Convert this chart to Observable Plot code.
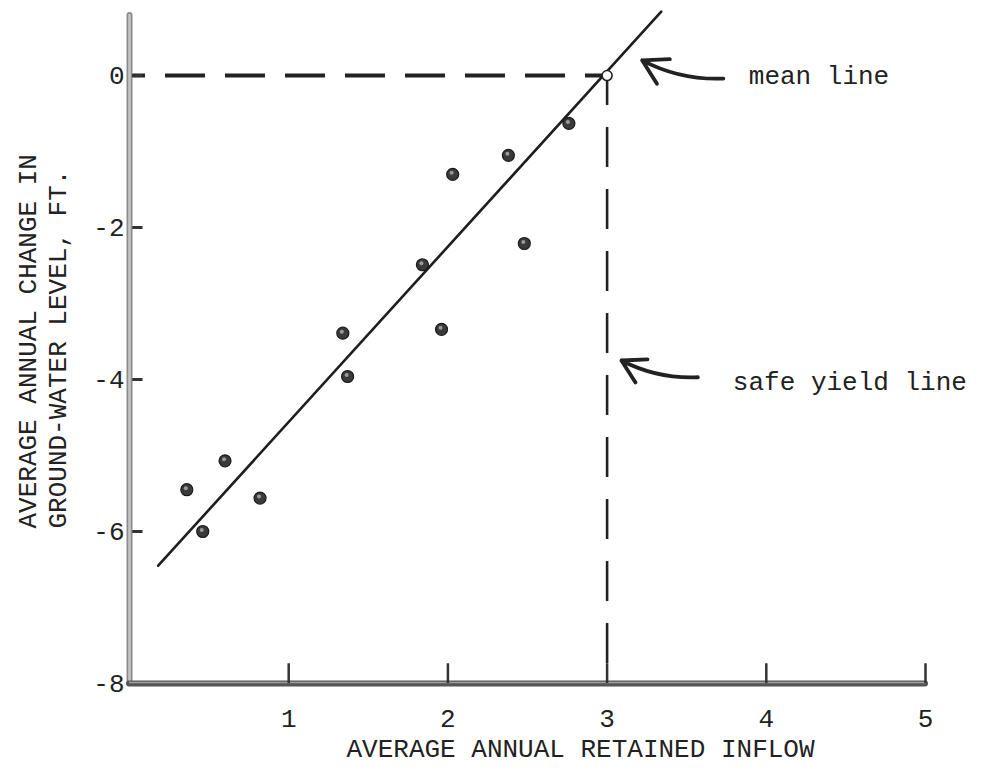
<!DOCTYPE html>
<html><head><meta charset="utf-8">
<script src="https://cdn.jsdelivr.net/npm/d3@7"></script>
<script src="https://cdn.jsdelivr.net/npm/@observablehq/plot@0.6"></script>
<style>html,body{margin:0;padding:0;background:#fff;}</style>
</head><body><div id="chart"></div>
<script>
// Observed points: average annual retained inflow vs. average annual change in ground-water level (ft)
const inflow      = [0.36, 0.46, 0.60, 0.82, 1.34, 1.37, 1.84, 1.96, 2.03, 2.38, 2.48, 2.76];
const levelChange = [-5.45, -6.00, -5.07, -5.56, -3.39, -3.96, -2.49, -3.34, -1.30, -1.05, -2.21, -0.63];
// Fitted line end points
const fitX = [0.18, 3.34];
const fitY = [-6.45, 0.84];
// Mean line (zero change) and safe yield line
const meanLevel = 0;
const safeYield = 3;
// Ticks
const xTicks = [1, 2, 3, 4, 5];
const yTicks = [0, -2, -4, -6, -8];
// Annotations
const noteText  = ["mean line", "safe yield line"];
const noteX     = [3.89, 3.79];
const noteY     = [0.0, -4.03];
const arrowTailX = [3.73, 3.57];
const arrowTailY = [-0.04, -3.97];
const arrowTipX  = [3.22, 3.09];
const arrowTipY  = [0.20, -3.75];

const points = inflow.map((x, i) => ({x, y: levelChange[i]}));
const fit = fitX.map((x, i) => ({x, y: fitY[i]}));
const notes = noteText.map((t, i) => ({t, x: noteX[i], y: noteY[i],
  x1: arrowTailX[i], y1: arrowTailY[i], x2: arrowTipX[i], y2: arrowTipY[i]}));

const FONT = "Liberation Mono";
const FS = 26;

const chart = Plot.plot({
  width: 985,
  height: 770,
  marginLeft: 129,
  marginRight: 60,
  marginTop: 15,
  marginBottom: 87,
  style: {background: "#fff", fontFamily: FONT, color: "#222"},
  x: {type: "linear", domain: [0, 5], range: [129, 925], axis: null},
  y: {type: "linear", domain: [-8, 0.79], range: [683, 15], axis: null},
  marks: [
    // dashed reference lines
    Plot.ruleY([meanLevel], {x1: 0, x2: safeYield, stroke: "#222", strokeWidth: 4, strokeDasharray: "40,20", strokeDashoffset: 24}),
    Plot.ruleX([safeYield], {y1: meanLevel, y2: -8, stroke: "#222", strokeWidth: 2.6, strokeDasharray: "40,22", strokeDashoffset: 10}),
    // axes
    Plot.ruleX([0], {y1: -8, y2: 0.79, stroke: "#8c8c8c", strokeWidth: 6, strokeLinecap: "round"}),
    Plot.ruleX([0], {y1: -8, y2: 0.79, stroke: "#c8c8c8", strokeWidth: 2.5, strokeLinecap: "round"}),
    Plot.ruleY([-8], {x1: 0, x2: 5, stroke: "#555", strokeWidth: 6, strokeLinecap: "round"}),
    Plot.ruleY([-8], {x1: 0, x2: 5, stroke: "#a0a0a0", strokeWidth: 1.5, dy: -1}),
    // ticks
    Plot.ruleY(yTicks.filter(d => d > -8), {y: d => d, x1: 0.02, x2: 0.085, stroke: "#333", strokeWidth: 3}),
    Plot.ruleX(xTicks, {x: d => d, y1: -8, y2: -7.74, stroke: "#333", strokeWidth: 2.5}),
    // tick labels
    Plot.text(yTicks, {x: 0, y: d => d, text: d => String(d), textAnchor: "end", dx: -5, fontSize: FS, fontFamily: FONT, fill: "#222"}),
    Plot.text(xTicks, {x: d => d, y: -8, text: d => String(d), dy: 35, fontSize: FS, fontFamily: FONT, fill: "#222"}),
    // fitted line
    Plot.line(fit, {x: "x", y: "y", stroke: "#1e1e1e", strokeWidth: 2.6}),
    // observed points
    Plot.dot(points, {x: "x", y: "y", r: 6, fill: "#3a3a3a", stroke: "#1a1a1a", strokeWidth: 1.2}),
    Plot.dot(points, {x: "x", y: "y", r: 2, fill: "#9a9a9a", dx: -1, dy: -1.5}),
    // intersection point
    Plot.dot([{x: safeYield, y: meanLevel}], {x: "x", y: "y", r: 5, fill: "#fff", stroke: "#222", strokeWidth: 1.6}),
    // annotations
    Plot.arrow(notes, {x1: "x1", y1: "y1", x2: "x2", y2: "y2", bend: 15, stroke: "#222", strokeWidth: 3.8, headLength: 17}),
    Plot.text(notes, {x: "x", y: "y", text: "t", textAnchor: "start", fontSize: FS, fontFamily: FONT, fill: "#222"}),
    // axis titles
    Plot.text(["AVERAGE ANNUAL RETAINED INFLOW"], {frameAnchor: "bottom", text: d => d, dx: 53, dy: 73, fontSize: FS, fontFamily: FONT, fill: "#222"}),
    Plot.text(["AVERAGE ANNUAL CHANGE IN"], {frameAnchor: "left", text: d => d, rotate: -90, textAnchor: "start", dx: -102, dy: 179, fontSize: FS, fontFamily: FONT, fill: "#222"}),
    Plot.text(["GROUND-WATER LEVEL, FT."], {frameAnchor: "left", text: d => d, rotate: -90, textAnchor: "start", dx: -72, dy: 179, fontSize: FS, fontFamily: FONT, fill: "#222"})
  ]
});
document.getElementById("chart").appendChild(chart);
</script>
</body></html>
